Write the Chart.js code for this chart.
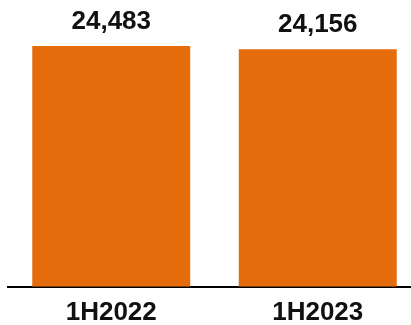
<!DOCTYPE html>
<html>
<head>
<meta charset="utf-8">
<script src="https://cdn.jsdelivr.net/npm/chart.js@4"></script>
<style>
html,body{margin:0;padding:0;background:#fff;overflow:hidden;width:411px;height:325px;}
#wrap{width:422px;height:338px;position:relative;}
</style>
</head>
<body>
<div id="wrap"><canvas id="c"></canvas></div>
<script>
const categories = ["1H2022", "1H2023"];
const values = [24483, 24156];
const valueLabels = ["24,483", "24,156"];

const FONT = "'Liberation Sans', Arial, sans-serif";

const labelPlugin = {
  id: 'valueLabels',
  afterDatasetsDraw(chart) {
    const ctx = chart.ctx;
    const meta = chart.getDatasetMeta(0);
    ctx.save();
    ctx.font = "bold 26px " + FONT;
    ctx.fillStyle = "#111111";
    ctx.textAlign = "center";
    ctx.textBaseline = "alphabetic";
    meta.data.forEach((bar, i) => {
      ctx.fillText(valueLabels[i], bar.x, bar.y - 17);
    });
    ctx.restore();
  }
};

new Chart(document.getElementById('c'), {
  type: 'bar',
  data: {
    labels: categories,
    datasets: [{
      data: values,
      backgroundColor: '#E46C0A',
      borderWidth: 0,
      barPercentage: 0.765,
      categoryPercentage: 1.0
    }]
  },
  options: {
    responsive: true,
    maintainAspectRatio: false,
    animation: false,
    events: [],
    layout: { padding: { left: 8, right: 1, top: 31, bottom: 0 } },
    plugins: { legend: { display: false }, tooltip: { enabled: false } },
    scales: {
      x: {
        grid: { display: false, drawTicks: false },
        border: { display: true, color: '#000000', width: 2 },
        ticks: {
          color: '#111111',
          padding: 10,
          font: { family: FONT, size: 26, weight: 'bold', lineHeight: 1.2 }
        }
      },
      y: {
        display: false,
        min: 0,
        max: 26000
      }
    }
  },
  plugins: [labelPlugin]
});
</script>
</body>
</html>
